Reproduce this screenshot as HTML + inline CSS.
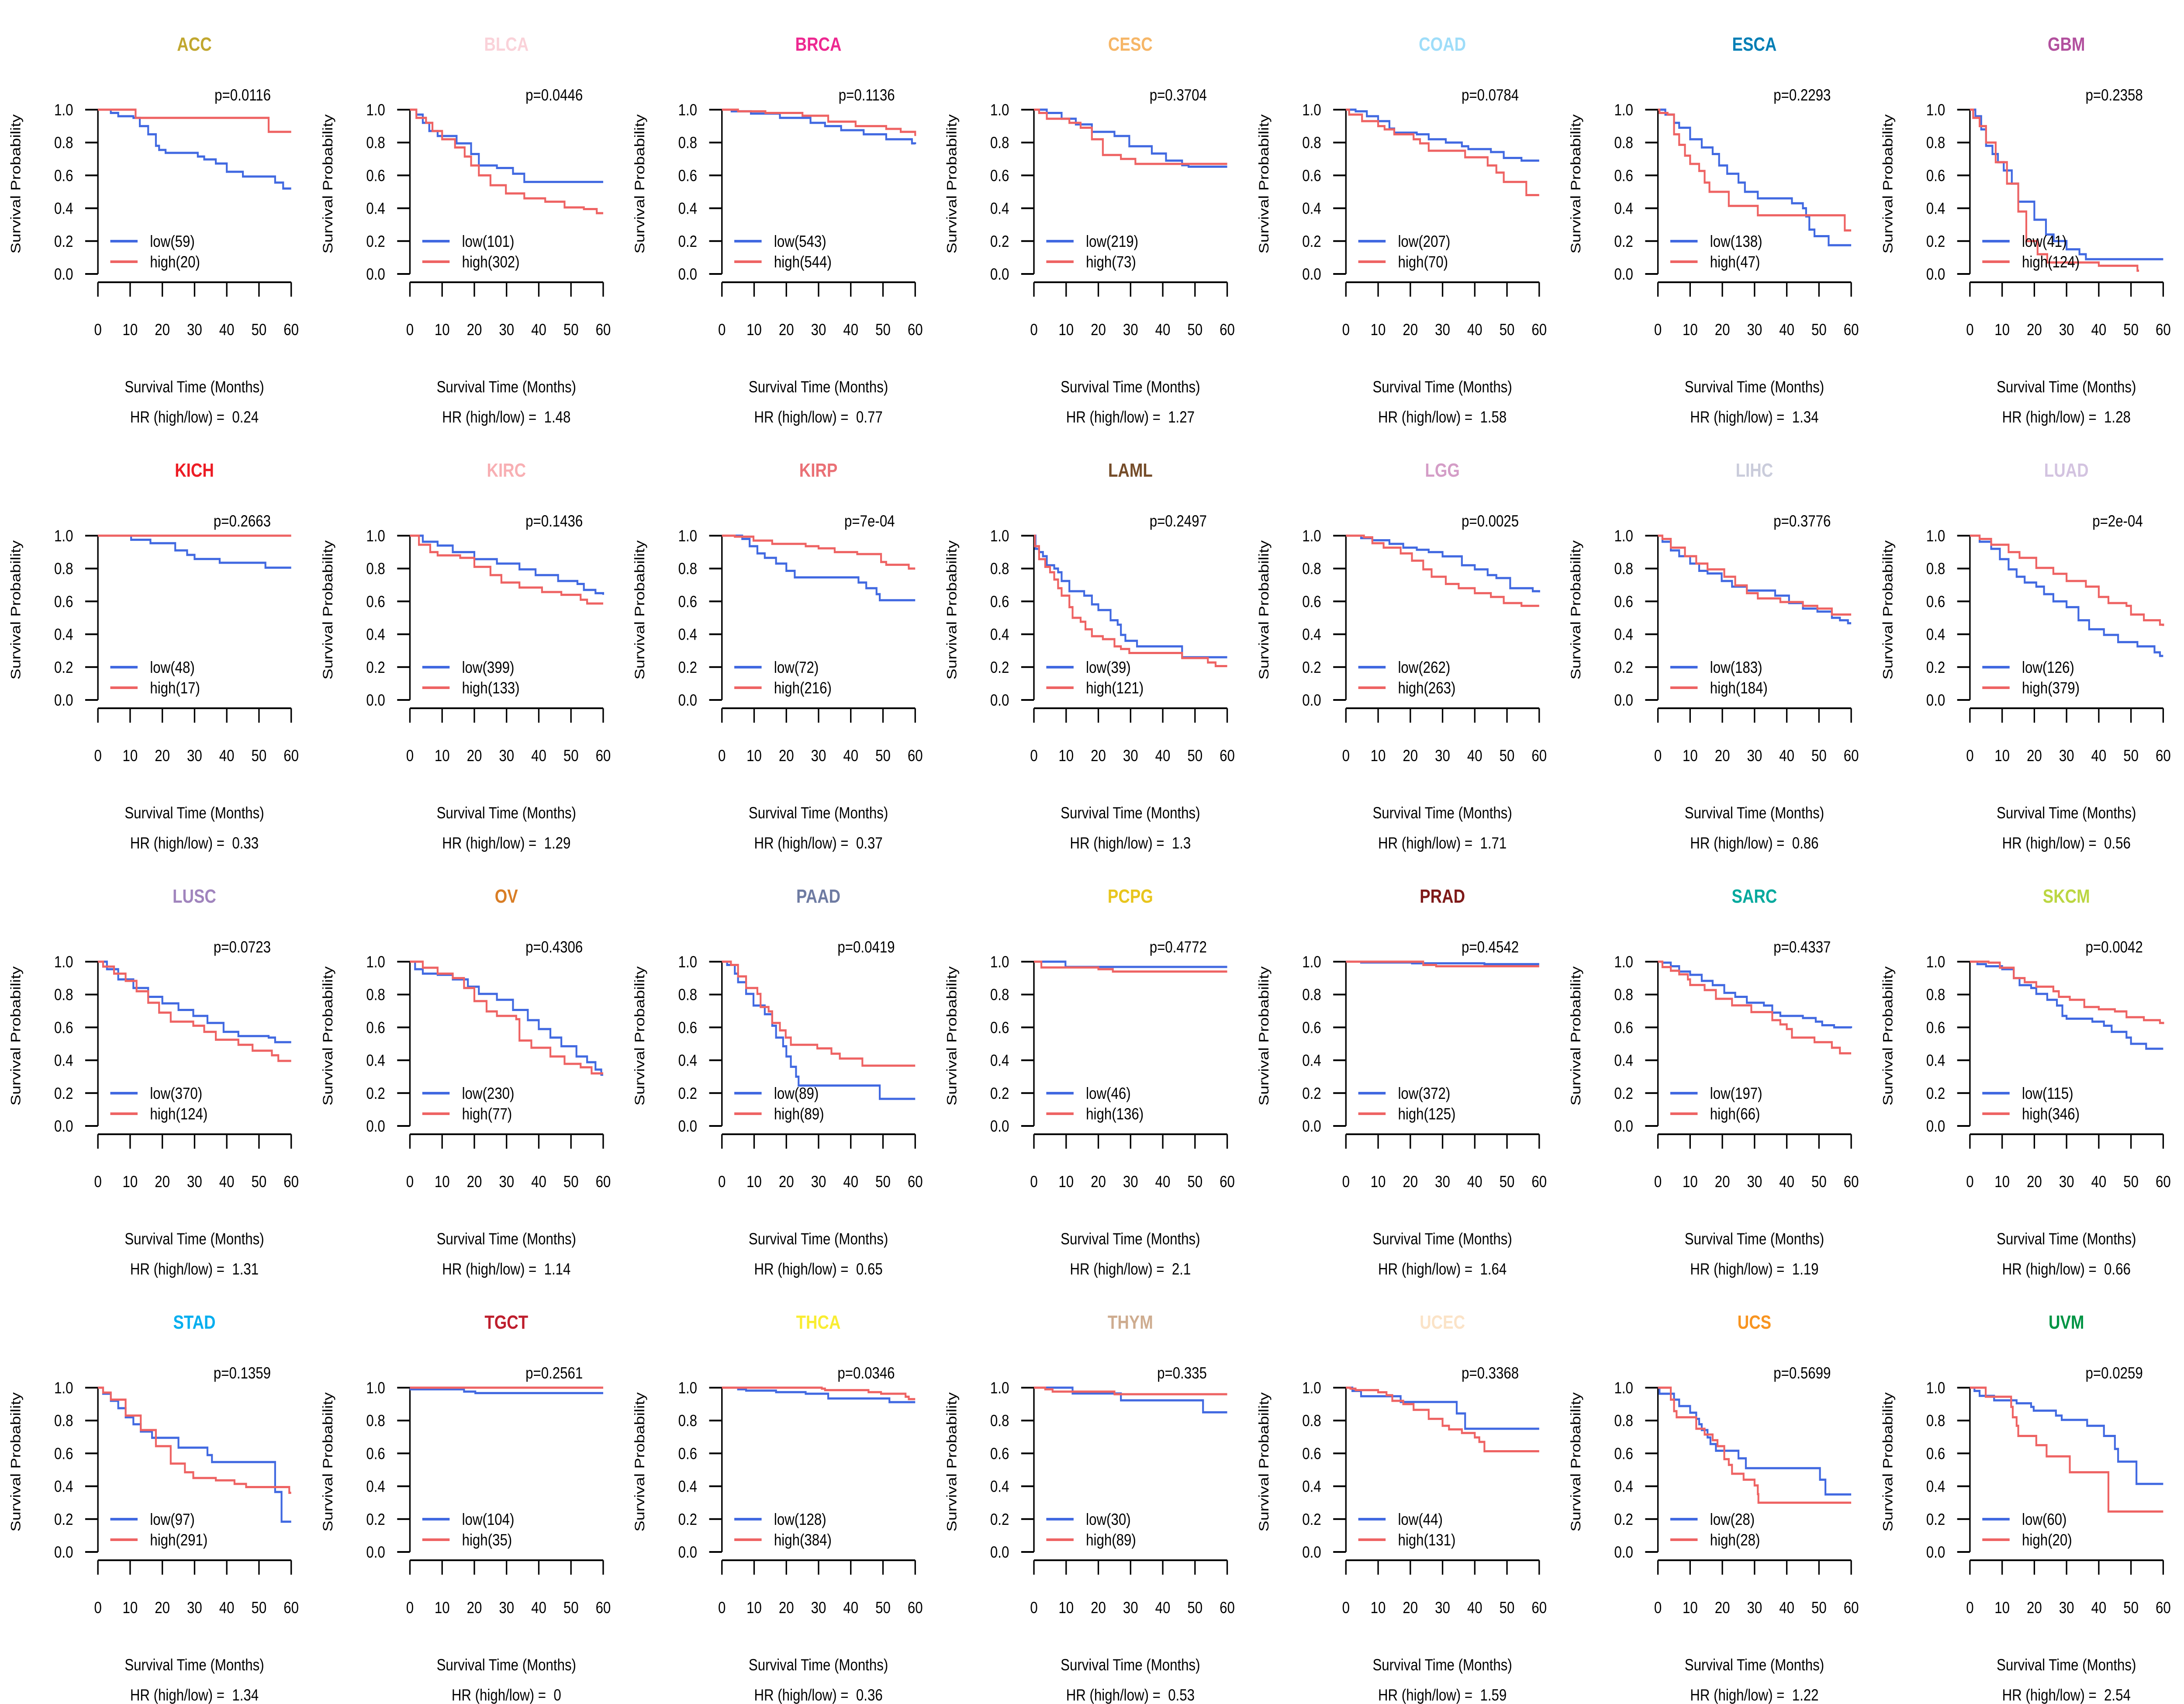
<!DOCTYPE html>
<html><head><meta charset="utf-8">
<style>
html,body{margin:0;padding:0;background:#fff;overflow:hidden;width:100%;height:100%;}
svg{display:block;font-family:"Liberation Sans",Arial,sans-serif;width:100vw;height:100vh;}
text{white-space:pre;}
</style></head>
<body>
<svg id="chart" viewBox="0 0 6000 3900" preserveAspectRatio="none" xmlns="http://www.w3.org/2000/svg"></svg>
<script>
const cancers=["ACC","BLCA","BRCA","CESC","COAD","ESCA","GBM","KICH","KIRC","KIRP","LAML","LGG","LIHC","LUAD","LUSC","OV","PAAD","PCPG","PRAD","SARC","SKCM","STAD","TGCT","THCA","THYM","UCEC","UCS","UVM"];
const titleColors=["#C1A72F","#FAD2D9","#ED2891","#F6B667","#9EDDF9","#007EB5","#B2509E","#ED1C24","#F8AFB3","#EA7075","#754C29","#D49DC7","#CACCDB","#D3C3E0","#A084BD","#D97D25","#6E7BA2","#E8C51D","#7E1918","#00A99D","#BBD642","#00AEEF","#BE1E2D","#F9ED32","#CEAC8F","#FBE3C7","#F89420","#009444"];
const pValues=["0.0116","0.0446","0.1136","0.3704","0.0784","0.2293","0.2358","0.2663","0.1436","7e-04","0.2497","0.0025","0.3776","2e-04","0.0723","0.4306","0.0419","0.4772","0.4542","0.4337","0.0042","0.1359","0.2561","0.0346","0.335","0.3368","0.5699","0.0259"];
const hrValues=["0.24","1.48","0.77","1.27","1.58","1.34","1.28","0.33","1.29","0.37","1.3","1.71","0.86","0.56","1.31","1.14","0.65","2.1","1.64","1.19","0.66","1.34","0","0.36","0.53","1.59","1.22","2.54"];
const nLow=[59,101,543,219,207,138,41,48,399,72,39,262,183,126,370,230,89,46,372,197,115,97,104,128,30,44,28,60];
const nHigh=[20,302,544,73,70,47,124,17,133,216,121,263,184,379,124,77,89,136,125,66,346,291,35,384,89,131,28,20];
const xTicks=[0,10,20,30,40,50,60];
const yTicks=[0,0.2,0.4,0.6,0.8,1.0];
const yTickLabels=["0.0","0.2","0.4","0.6","0.8","1.0"];
const lowCurves=[
[[4,.98],[6.3,.96],[11,.95],[13,.9],[15.6,.85],[18,.78],[19,.755],[21,.737],[31,.715],[33,.697],[36.6,.672],[40,.622],[45,.593],[55,.556],[57.5,.52],[60,.52]],
[[2,.97],[4,.92],[6,.87],[8.6,.84],[14.5,.795],[19,.73],[21.4,.66],[27,.645],[32,.61],[35.5,.56],[60,.56]],
[[3,.99],[9,.976],[18,.95],[27.5,.92],[32,.9],[37,.875],[44,.85],[51,.82],[59,.795],[60,.79]],
[[4,.98],[8.6,.945],[13,.91],[18,.865],[25,.84],[29.6,.777],[36.6,.733],[41,.69],[46,.662],[48,.653],[60,.653]],
[[3,.99],[6.5,.96],[10,.93],[13.5,.885],[15,.86],[22,.85],[25.7,.82],[31,.80],[36,.777],[38,.76],[45,.742],[49,.706],[54.5,.69],[60,.69]],
[[2.3,.97],[5,.92],[6.6,.89],[10,.82],[13.6,.77],[17,.73],[19,.66],[21.5,.61],[25,.556],[27,.50],[31,.46],[41.6,.43],[45,.40],[46,.35],[47,.27],[48.6,.23],[53,.175],[60,.175]],
[[1.7,.96],[3.5,.88],[5,.78],[7,.73],[8.7,.68],[10.5,.63],[13,.55],[15,.44],[20,.33],[23.6,.24],[26,.2],[30,.15],[34,.12],[36,.09],[60,.09]],
[[10.3,.975],[16.3,.954],[24,.91],[27.7,.883],[30,.858],[37.8,.835],[52,.805],[60,.805]],
[[4,.963],[8.6,.94],[13.3,.90],[20,.857],[27,.83],[34,.795],[39,.76],[46,.724],[52,.706],[54,.67],[57.6,.65],[60,.64]],
[[6.3,.98],[8.6,.936],[11,.892],[13.3,.865],[16.8,.83],[20,.786],[22.6,.746],[42.4,.715],[44.8,.68],[48,.644],[49,.607],[60,.607]],
[[0.5,.92],[1.6,.90],[2.8,.875],[4,.82],[6.3,.80],[7.5,.777],[8.6,.724],[11,.662],[15.6,.635],[18,.582],[20,.547],[23.8,.485],[26,.458],[27,.396],[28.4,.36],[32,.326],[46,.26],[60,.26]],
[[4.7,.985],[8.2,.972],[13.5,.95],[17.8,.927],[22,.914],[25.7,.90],[30,.874],[36,.82],[40,.795],[44,.76],[46.7,.742],[51,.68],[58,.662],[60,.655]],
[[1.4,.963],[4,.91],[6.6,.875],[10,.83],[12.8,.786],[15.4,.77],[19.8,.724],[23,.69],[27.6,.666],[36.4,.635],[40.7,.59],[45,.556],[49.5,.538],[54,.50],[56.5,.485],[59,.467],[60,.467]],
[[3,.963],[6.6,.92],[9.3,.857],[12,.795],[14.5,.75],[17,.715],[20.6,.69],[23,.644],[25.9,.60],[30,.565],[33.7,.485],[37,.43],[41.6,.396],[46,.352],[52,.326],[57.3,.29],[59,.268],[60,.268]],
[[2.8,.954],[6.3,.892],[11,.84],[15.6,.786],[20,.746],[25,.706],[29.6,.67],[34,.627],[39,.573],[43.6,.547],[53,.538],[55,.51],[60,.51]],
[[1.6,.954],[4,.927],[8.6,.92],[13.3,.892],[18,.848],[21.4,.804],[27,.768],[32,.706],[36.6,.644],[40,.59],[43.6,.538],[47,.485],[51.7,.423],[55,.388],[57.6,.343],[59.4,.312],[60,.312]],
[[1.6,.98],[4,.927],[5,.875],[7.5,.804],[9.8,.733],[13.3,.68],[15.6,.61],[16.8,.538],[19,.485],[20,.423],[21.4,.36],[23,.30],[23.8,.246],[49,.165],[60,.165]],
[[9.8,.968],[60,.968]],
[[4.7,.995],[20.5,.99],[43,.985],[60,.985]],
[[1.4,.994],[4,.972],[6.6,.94],[10,.92],[13.6,.883],[17,.857],[20.6,.81],[24,.786],[27.6,.75],[32.9,.733],[35.5,.69],[38,.67],[45,.657],[49,.635],[51,.613],[54.7,.60],[60,.595]],
[[2.3,.985],[5,.972],[10,.954],[13.6,.90],[15.4,.857],[19,.84],[20.6,.804],[24,.768],[27,.733],[28.7,.67],[30,.653],[38,.635],[41.6,.61],[44,.573],[48.6,.538],[50,.50],[54.7,.47],[60,.47]],
[[1.6,.963],[4,.92],[6.3,.875],[8.6,.82],[11,.777],[13.3,.733],[16.8,.695],[25,.635],[34,.59],[35.4,.547],[55,.365],[57,.184],[60,.184]],
[[0.2,.99],[16.8,.976],[20.3,.967],[60,.967]],
[[5,.99],[7.5,.982],[16.8,.973],[26,.963],[33,.934],[52,.912],[60,.912]],
[[12,.965],[27,.923],[52.5,.85],[60,.85]],
[[2,.98],[4.7,.948],[17,.913],[34.4,.843],[37,.75],[60,.75]],
[[0.5,.963],[5,.927],[6.6,.888],[10,.848],[11.9,.81],[12.8,.777],[13.6,.742],[15.4,.697],[16.3,.657],[18,.616],[25,.57],[27.3,.51],[50.3,.44],[52,.35],[60,.35]],
[[1.4,.98],[3,.95],[7.5,.923],[14.5,.905],[19,.883],[19.8,.86],[26.7,.83],[28.5,.804],[36.4,.768],[41.6,.706],[45,.627],[46,.55],[51.7,.414],[60,.414]]
];
const highCurves=[
[[11.7,.95],[53,.865],[60,.865]],
[[2,.95],[5,.92],[7,.87],[10,.82],[14,.77],[17,.715],[19,.66],[21.4,.60],[25,.54],[29.8,.49],[35.5,.46],[42,.44],[48,.405],[54,.395],[58,.37],[60,.37]],
[[5,.99],[13.5,.98],[25,.963],[33,.927],[41.5,.90],[51,.883],[55.5,.865],[60,.84]],
[[1.6,.98],[4,.945],[11,.92],[14.5,.89],[18,.82],[21.4,.724],[27,.70],[31.5,.67],[60,.67]],
[[1,.97],[5,.93],[10,.90],[12,.88],[15,.85],[21,.82],[23,.795],[25.7,.75],[37,.71],[44,.66],[46.7,.617],[49,.56],[56,.48],[60,.48]],
[[0.5,.98],[3,.97],[5,.85],[6.6,.786],[8.4,.72],[10,.67],[12.8,.627],[14.5,.556],[16,.50],[22,.414],[31,.357],[58,.265],[60,.265]],
[[1,.95],[3,.9],[5,.8],[8,.68],[11.5,.55],[15,.38],[17.5,.2],[21,.12],[24,.07],[40,.05],[50,.05],[52,.02],[52.5,.02]],
[[60,1]],
[[2.8,.945],[6.3,.90],[8.6,.88],[15.6,.865],[20,.81],[25,.76],[28.4,.715],[34,.684],[41,.657],[47,.64],[53,.61],[55,.587],[60,.587]],
[[4,.994],[9.8,.97],[15.6,.95],[26,.936],[30,.923],[35,.90],[42,.888],[49.4,.84],[51,.823],[58,.80],[60,.80]],
[[0.3,.936],[1.6,.857],[3.5,.81],[5,.777],[6.3,.733],[7.5,.68],[8.6,.635],[11,.565],[12,.50],[14.5,.476],[16,.43],[18,.388],[21.4,.37],[25,.326],[27,.31],[29.6,.286],[46,.255],[54,.228],[56.4,.206],[60,.206]],
[[5.6,.99],[8.2,.954],[11.7,.927],[17,.892],[20.5,.848],[24,.795],[26.6,.75],[31,.706],[35,.68],[40,.65],[45,.627],[49,.59],[54.5,.573],[60,.573]],
[[1.4,.98],[4,.927],[8.4,.875],[11.9,.83],[15.4,.795],[20.6,.75],[24,.697],[27.6,.65],[31,.618],[38,.596],[45,.573],[49.5,.556],[54,.52],[60,.52]],
[[3,.98],[6.6,.945],[12,.90],[15.4,.865],[20.6,.804],[25.9,.768],[30,.724],[36,.69],[40,.627],[43,.59],[48.6,.573],[50,.52],[54,.485],[59,.458],[60,.45]],
[[1.6,.97],[5,.927],[8.6,.883],[12,.82],[15.6,.75],[19,.69],[22.6,.635],[29.6,.61],[33,.573],[36.6,.525],[43.6,.494],[48,.458],[54,.43],[56,.396],[60,.396]],
[[4,.963],[8.6,.927],[13.3,.90],[16.8,.84],[20,.76],[23.8,.697],[27,.67],[33,.65],[34,.52],[37.7,.476],[43.6,.423],[48,.378],[53,.357],[56.4,.32],[60,.32]],
[[2.8,.98],[5,.91],[7.5,.84],[11,.804],[12,.724],[14.5,.697],[15.6,.627],[18,.582],[19.8,.538],[21.4,.494],[29.6,.472],[34,.44],[36.6,.41],[43.6,.367],[60,.367]],
[[2.3,.965],[20,.954],[24.5,.94],[60,.94]],
[[24,.98],[28,.972],[60,.972]],
[[1.4,.967],[4,.945],[6.6,.923],[9.3,.892],[10,.858],[14.5,.827],[18,.774],[23,.734],[29,.693],[35.5,.644],[38,.618],[40,.59],[41.6,.538],[48.6,.51],[54,.476],[56.5,.442],[60,.442]],
[[5.8,.994],[9.3,.963],[13.6,.90],[17,.875],[20.6,.848],[25.9,.82],[27.6,.786],[31,.768],[35.5,.724],[40,.71],[45,.697],[48.6,.662],[54,.644],[59,.627],[60,.62]],
[[1.6,.97],[4,.927],[8.6,.83],[13.3,.742],[18,.644],[22.6,.538],[27,.485],[29.6,.45],[36.6,.436],[42.4,.414],[46,.395],[59.4,.36],[60,.36]],
[[60,1]],
[[31,.994],[32,.985],[45.5,.973],[49.4,.963],[57,.945],[58,.93],[60,.93]],
[[3.5,.99],[5.8,.976],[25,.96],[60,.96]],
[[1.4,.994],[3,.985],[10,.972],[12.6,.954],[14.4,.92],[17.8,.90],[21,.865],[25.7,.81],[30,.768],[32,.746],[36,.724],[40,.697],[41.4,.67],[43,.613],[60,.613]],
[[4,.927],[5,.857],[5.8,.82],[11.9,.75],[14.5,.715],[17,.68],[18.5,.644],[20.6,.565],[22,.53],[23,.476],[26.6,.44],[30,.405],[31,.352],[31.2,.30],[60,.30]],
[[4.9,.945],[12.8,.883],[13.3,.82],[14.5,.768],[15,.706],[20.6,.65],[23.8,.582],[31,.485],[43,.246],[60,.246]]
];

const NS="http://www.w3.org/2000/svg";
const svg=document.getElementById("chart");
const PW=6000/7, PH=975;
const BLUE="#4169E1", RED="#EE6363";
function mk(tag,attrs,parent){const e=document.createElementNS(NS,tag);for(const k in attrs)e.setAttribute(k,attrs[k]);parent.appendChild(e);return e;}

cancers.forEach((name,i)=>{
  const ox=(i%7)*PW, oy=Math.floor(i/7)*PH;
  const g=mk("g",{transform:`translate(${ox.toFixed(2)},${oy})`},svg);
  
  
  const x0=269,x1=800,y0=627,y1=251;
  const sx=t=>x0+(t/60)*(x1-x0);
  const sy=v=>y0-v*(y0-y1);

  const title=mk("text",{x:534,y:116,"text-anchor":"middle","font-size":44,"font-weight":"bold",fill:titleColors[i]},g);
  title.textContent=name;
  
  

  const pt=mk("text",{x:744,y:230,"text-anchor":"end","font-size":37.5,fill:"#000"},g);
  pt.textContent="p="+pValues[i];
  
  

  const ya=mk("g",{},g);
  
  
  mk("line",{x1:x0,y1:sy(0),x2:x0,y2:sy(1),stroke:"#000","stroke-width":4},ya);
  yTicks.forEach((v,k)=>{
    mk("line",{x1:234,y1:sy(v),x2:x0,y2:sy(v),stroke:"#000","stroke-width":4},ya);
    const t=mk("text",{x:201,y:sy(v)+13,"text-anchor":"end","font-size":37.5},ya);
    t.textContent=yTickLabels[k];
    
    
  });
  const xa=mk("g",{},g);
  
  
  mk("line",{x1:sx(0),y1:646,x2:sx(60),y2:646,stroke:"#000","stroke-width":4},xa);
  xTicks.forEach(v=>{
    mk("line",{x1:sx(v),y1:646,x2:sx(v),y2:679,stroke:"#000","stroke-width":4},xa);
    const t=mk("text",{x:sx(v),y:767,"text-anchor":"middle","font-size":37.5},xa);
    t.textContent=String(v);
    
    
  });
  const yl=mk("text",{x:0,y:0,transform:"translate(56,421) rotate(-90)","text-anchor":"middle","font-size":37.5},g);
  yl.textContent="Survival Probability";
  
  
  const xl=mk("text",{x:534,y:898,"text-anchor":"middle","font-size":37.5},g);
  xl.textContent="Survival Time (Months)";
  
  
  const hr=mk("text",{x:534,y:967,"text-anchor":"middle","font-size":37.5},g);
  hr.textContent="HR (high/low) =  "+hrValues[i];
  
  

  function stepPath(pts){
    let d=`M${sx(0).toFixed(1)},${sy(1).toFixed(1)}`;let prev=1;
    pts.forEach(([t,s])=>{d+=` H${sx(t).toFixed(1)}`;if(s!==prev){d+=` V${sy(s).toFixed(1)}`;prev=s;}});
    return d;
  }
  const lo=mk("path",{d:stepPath(lowCurves[i]),fill:"none",stroke:BLUE,"stroke-width":5},g);
  
  
  const hi=mk("path",{d:stepPath(highCurves[i]),fill:"none",stroke:RED,"stroke-width":5},g);
  
  

  const lg=mk("g",{},g);
  
  
  [[BLUE,"low("+nLow[i]+")",552],[RED,"high("+nHigh[i]+")",599]].forEach(([c,lab,yy])=>{
    const e=mk("g",{},lg);
    
    
    mk("line",{x1:303,y1:yy,x2:378,y2:yy,stroke:c,"stroke-width":6},e);
    const t=mk("text",{x:412,y:yy+13,"font-size":37.5},e);
    t.textContent=lab;
  });
});
</script>
</body></html>
